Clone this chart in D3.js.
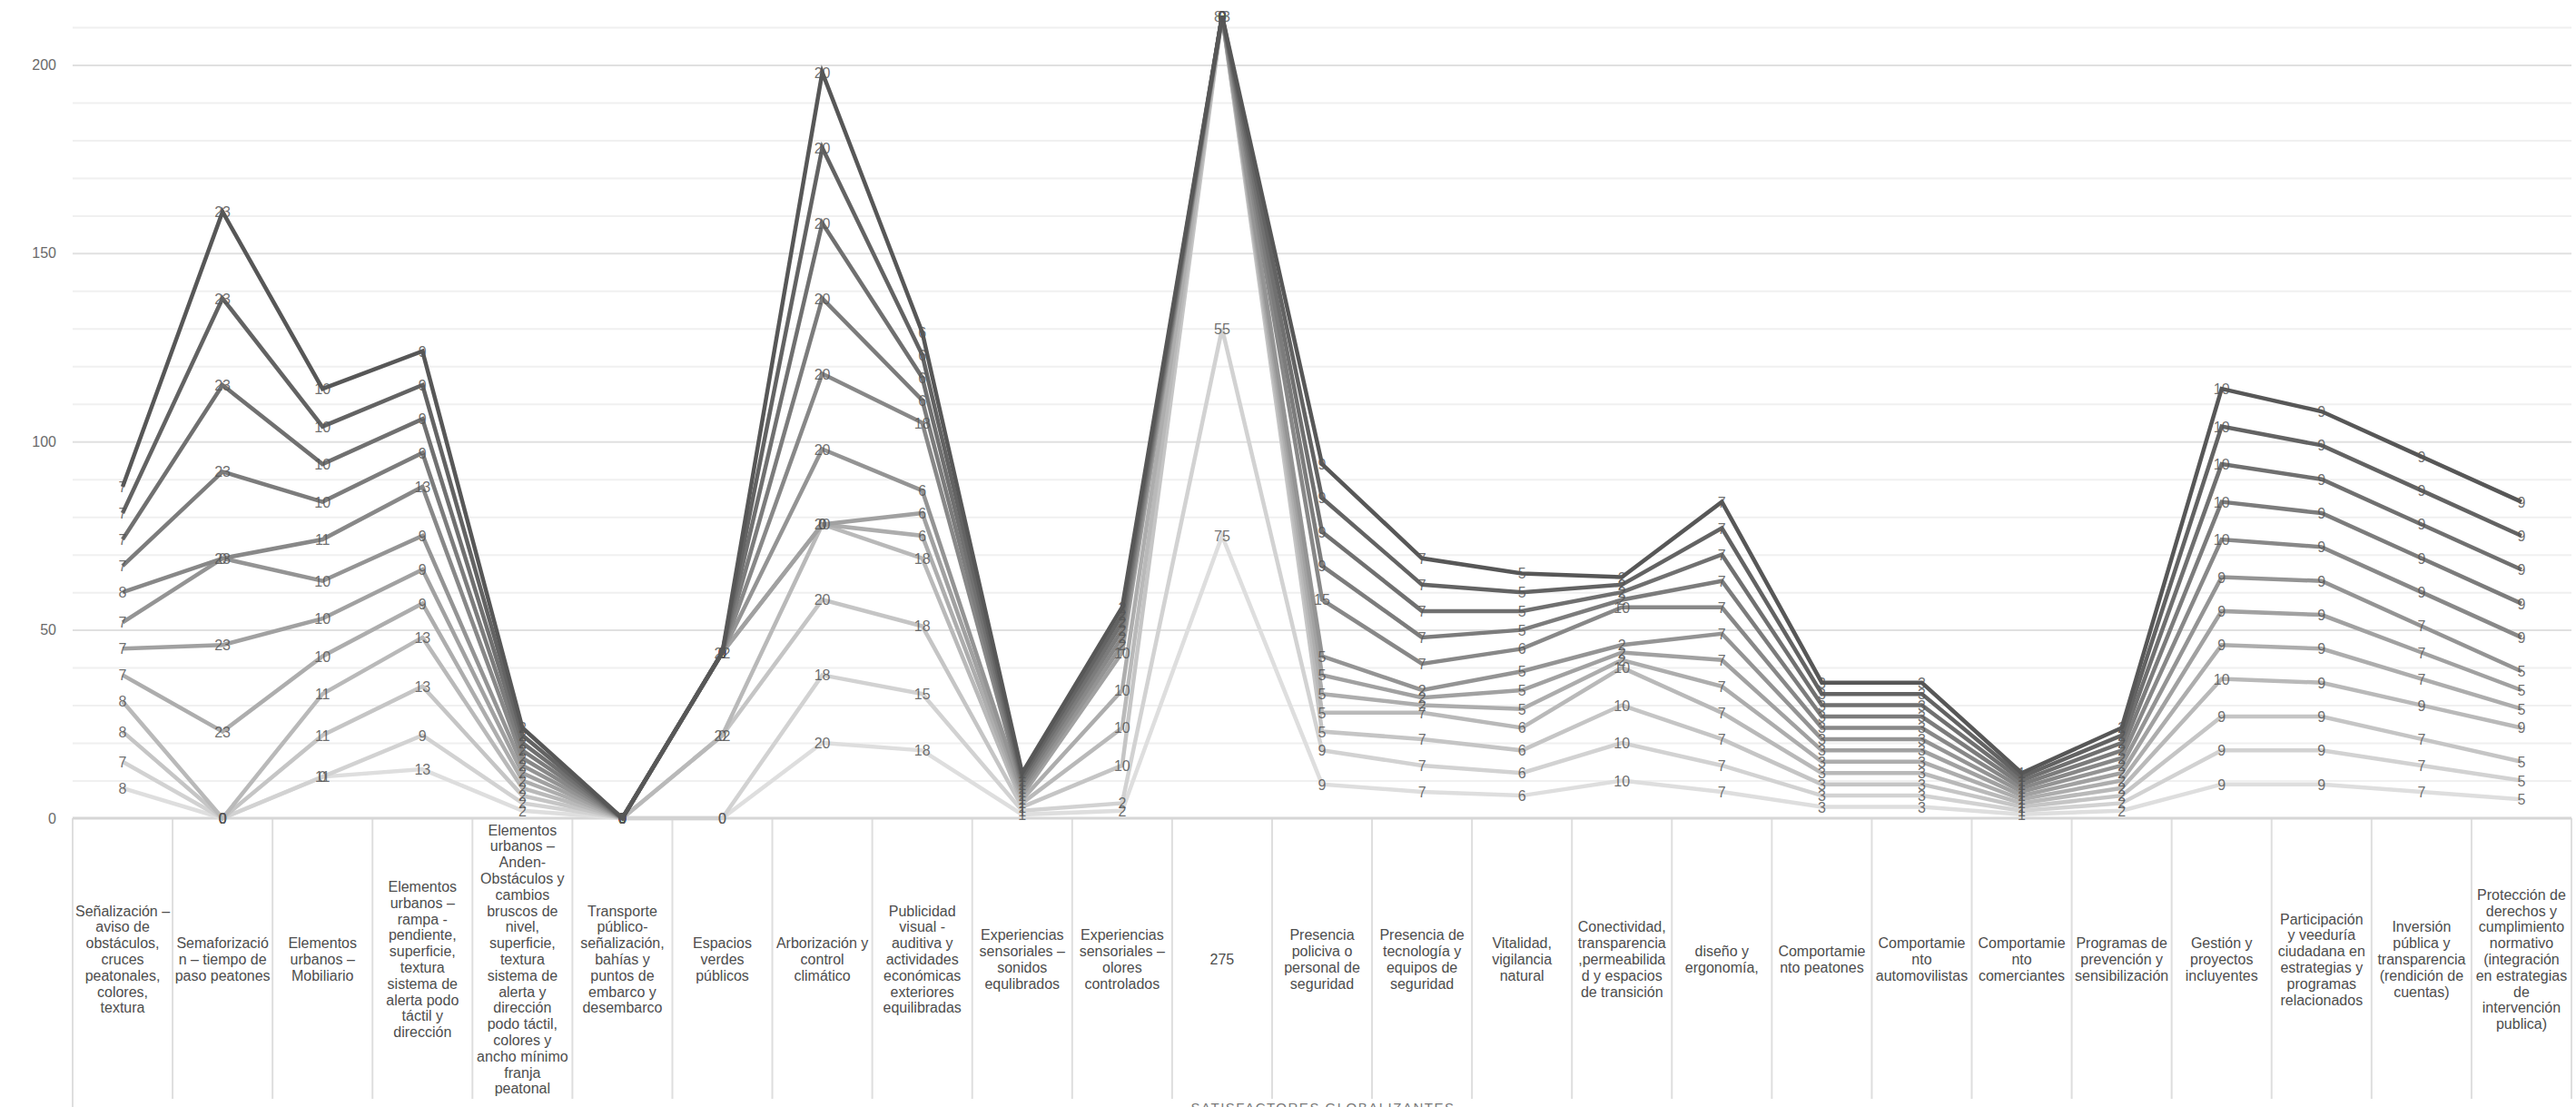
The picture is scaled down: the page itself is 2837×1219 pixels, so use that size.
<!DOCTYPE html>
<html>
<head>
<meta charset="utf-8">
<script src="https://cdn.jsdelivr.net/npm/d3@7"></script>
<style>
  body { margin: 0; background: #fff; overflow: hidden; }
  svg { display: block; font-family: "Liberation Sans", Arial, sans-serif; }
</style>
</head>
<body>
<script>

// categories (x axis), one text line per array entry
var categories = [
  ["Señalización –", "aviso de", "obstáculos,", "cruces", "peatonales,", "colores,", "textura"],
  ["Semaforizació", "n – tiempo de", "paso peatones"],
  ["Elementos", "urbanos –", "Mobiliario"],
  ["Elementos", "urbanos –", "rampa -", "pendiente,", "superficie,", "textura", "sistema de", "alerta podo", "táctil y", "dirección"],
  ["Elementos", "urbanos –", "Anden-", "Obstáculos y", "cambios", "bruscos de", "nivel,", "superficie,", "textura", "sistema de", "alerta y", "dirección", "podo táctil,", "colores y", "ancho mínimo", "franja", "peatonal"],
  ["Transporte", "público-", "señalización,", "bahías y", "puntos de", "embarco y", "desembarco"],
  ["Espacios", "verdes", "públicos"],
  ["Arborización y", "control", "climático"],
  ["Publicidad", "visual -", "auditiva y", "actividades", "económicas", "exteriores", "equilibradas"],
  ["Experiencias", "sensoriales –", "sonidos", "equlibrados"],
  ["Experiencias", "sensoriales –", "olores", "controlados"],
  ["275"],
  ["Presencia", "policiva o", "personal de", "seguridad"],
  ["Presencia de", "tecnología y", "equipos de", "seguridad"],
  ["Vitalidad,", "vigilancia", "natural"],
  ["Conectividad,", "transparencia", ",permeabilida", "d y espacios", "de transición"],
  ["diseño y", "ergonomía,"],
  ["Comportamie", "nto peatones"],
  ["Comportamie", "nto", "automovilistas"],
  ["Comportamie", "nto", "comerciantes"],
  ["Programas de", "prevención y", "sensibilización"],
  ["Gestión y", "proyectos", "incluyentes"],
  ["Participación", "y veeduría", "ciudadana en", "estrategias y", "programas", "relacionados"],
  ["Inversión", "pública y", "transparencia", "(rendición de", "cuentas)"],
  ["Protección de", "derechos y", "cumplimiento", "normativo", "(integración", "en estrategias", "de", "intervención", "publica)"]
];

// series values, bottom of the stack first
var s1  = [8, 0, 11, 13, 2, 0, 0, 20, 18, 1, 2, 75, 9, 7, 6, 10, 7, 3, 3, 1, 2, 9, 9, 7, 5];
var s2  = [7, 0, 0, 9, 2, 0, 0, 18, 15, 1, 2, 55, 9, 7, 6, 10, 7, 3, 3, 1, 2, 9, 9, 7, 5];
var s3  = [8, 0, 11, 13, 2, 0, 22, 20, 18, 1, 10, 83, 5, 7, 6, 10, 7, 3, 3, 1, 2, 9, 9, 7, 5];
var s4  = [8, 0, 11, 13, 2, 0, 0, 20, 18, 1, 10, 0, 5, 7, 6, 10, 7, 3, 3, 1, 2, 10, 9, 9, 9];
var s5  = [7, 23, 10, 9, 2, 0, 22, 0, 6, 1, 10, 0, 5, 2, 5, 2, 7, 3, 3, 1, 2, 9, 9, 7, 5];
var s6  = [7, 23, 10, 9, 2, 0, 0, 0, 6, 1, 10, 0, 5, 2, 5, 2, 7, 3, 3, 1, 2, 9, 9, 7, 5];
var s7  = [7, 23, 10, 9, 2, 0, 0, 20, 6, 1, 2, 0, 5, 2, 5, 2, 7, 3, 3, 1, 2, 9, 9, 7, 5];
var s8  = [8, 0, 11, 13, 2, 0, 0, 20, 18, 1, 2, 0, 15, 7, 6, 10, 7, 3, 3, 1, 2, 10, 9, 9, 9];
var s9  = [7, 23, 10, 9, 2, 0, 0, 20, 6, 1, 2, 0, 9, 7, 5, 2, 7, 3, 3, 1, 2, 10, 9, 9, 9];
var s10 = [7, 23, 10, 9, 2, 0, 0, 20, 6, 1, 2, 0, 9, 7, 5, 2, 7, 3, 3, 1, 2, 10, 9, 9, 9];
var s11 = [7, 23, 10, 9, 2, 0, 0, 20, 6, 1, 2, 0, 9, 7, 5, 2, 7, 3, 3, 1, 2, 10, 9, 9, 9];
var s12 = [7, 23, 10, 9, 2, 0, 0, 20, 6, 1, 2, 0, 9, 7, 5, 2, 7, 3, 3, 1, 2, 10, 9, 9, 9];

var seriesValues = [s1, s2, s3, s4, s5, s6, s7, s8, s9, s10, s11, s12];
var seriesKeys = seriesValues.map(function(d, i) { return "s" + (i + 1); });

// y axis
var yTicks = [0, 50, 100, 150, 200];
var yMax = 210;
var axisTitle = "SATISFACTORES GLOBALIZANTES";

var W = 2837, H = 1219;
var plotLeft = 80, plotRight = 2832, plotTop = 30, plotBottom = 901;

var rows = categories.map(function(c, j) {
  var r = { idx: j };
  seriesKeys.forEach(function(k, i) { r[k] = seriesValues[i][j]; });
  return r;
});

var stacked = d3.stack().keys(seriesKeys)(rows);

var svg = d3.select("body").append("svg")
    .attr("width", W)
    .attr("height", H);

var xScale = d3.scaleBand()
    .domain(d3.range(categories.length))
    .range([plotLeft, plotRight])
    .paddingInner(0).paddingOuter(0);

var yScale = d3.scaleLinear()
    .domain([0, yMax])
    .range([plotBottom, plotTop]);

var color = d3.scaleLinear()
    .domain([0, seriesKeys.length - 1])
    .range(["#dedede", "#575757"]);

var cx = function(j) { return xScale(j) + xScale.bandwidth() / 2; };

// minor + major gridlines
svg.append("g")
    .attr("class", "grid")
    .attr("transform", "translate(" + plotLeft + ",0)")
    .call(d3.axisLeft(yScale).tickValues(d3.range(10, yMax + 1, 10)).tickSize(-(plotRight - plotLeft)).tickFormat(""))
    .call(function(g) {
      g.select(".domain").remove();
      g.selectAll(".tick line")
        .attr("stroke", function(d) { return d % 50 === 0 ? "#e0e0e0" : "#f0f0f0"; })
        .attr("stroke-width", 2);
    });

// y tick labels
svg.append("g")
    .attr("transform", "translate(" + plotLeft + ",0)")
    .call(d3.axisLeft(yScale).tickValues(yTicks).tickSize(0).tickPadding(18))
    .call(function(g) {
      g.select(".domain").remove();
      g.selectAll("text")
        .attr("fill", "#6a6a6a")
        .style("font-size", "16px")
        .style("font-family", "Liberation Sans, Arial, sans-serif");
    });

// category dividers
var edges = d3.range(categories.length + 1).map(function(j) {
  return j < categories.length ? xScale(j) : plotRight;
});
svg.append("g").selectAll("line")
    .data(edges)
  .enter().append("line")
    .attr("x1", function(d) { return d; })
    .attr("x2", function(d) { return d; })
    .attr("y1", plotBottom)
    .attr("y2", function(d, i) { return i === 0 ? H : 1210; })
    .attr("stroke", "#dedede")
    .attr("stroke-width", 2);

// category axis line
svg.append("line")
    .attr("x1", plotLeft).attr("x2", plotRight)
    .attr("y1", plotBottom).attr("y2", plotBottom)
    .attr("stroke", "#d6d6d6")
    .attr("stroke-width", 3);

// category labels
var lineH = 17.8, labelMid = 1057;
var labels = svg.append("g").selectAll("text")
    .data(categories)
  .enter().append("text")
    .attr("text-anchor", "middle")
    .attr("fill", "#4d4d4d")
    .style("font-size", "16px");
labels.each(function(lines, j) {
  var t = d3.select(this);
  var y0 = labelMid - (lines.length - 1) * lineH / 2 + 5;
  lines.forEach(function(s, k) {
    t.append("tspan")
      .attr("x", cx(j))
      .attr("y", y0 + k * lineH)
      .text(s);
  });
});

// axis title (cut by bottom edge like the original)
svg.append("text")
    .attr("x", 1457)
    .attr("y", 1225)
    .attr("text-anchor", "middle")
    .attr("fill", "#7a7a7a")
    .style("font-size", "15px")
    .style("letter-spacing", "1.5px")
    .text(axisTitle);

// stacked lines
var line = d3.line()
    .x(function(d) { return cx(d.data.idx); })
    .y(function(d) { return yScale(d[1]); });

svg.append("g").selectAll("path")
    .data(stacked)
  .enter().append("path")
    .attr("d", line)
    .attr("fill", "none")
    .attr("stroke", function(d, i) { return color(i); })
    .attr("stroke-width", 4.5)
    .attr("stroke-linejoin", "miter");

// data labels (series value at stacked position)
var lab = svg.append("g");
stacked.forEach(function(layer, i) {
  lab.selectAll(null)
      .data(layer)
    .enter().append("text")
      .attr("x", function(d) { return cx(d.data.idx); })
      .attr("y", function(d) { return yScale(d[1]) + 6; })
      .attr("text-anchor", "middle")
      .attr("fill", "#555555")
      .attr("fill-opacity", 0.85)
      .style("font-size", "16px")
      .text(function(d) { return d[1] - d[0]; });
});

</script>
</body>
</html>
